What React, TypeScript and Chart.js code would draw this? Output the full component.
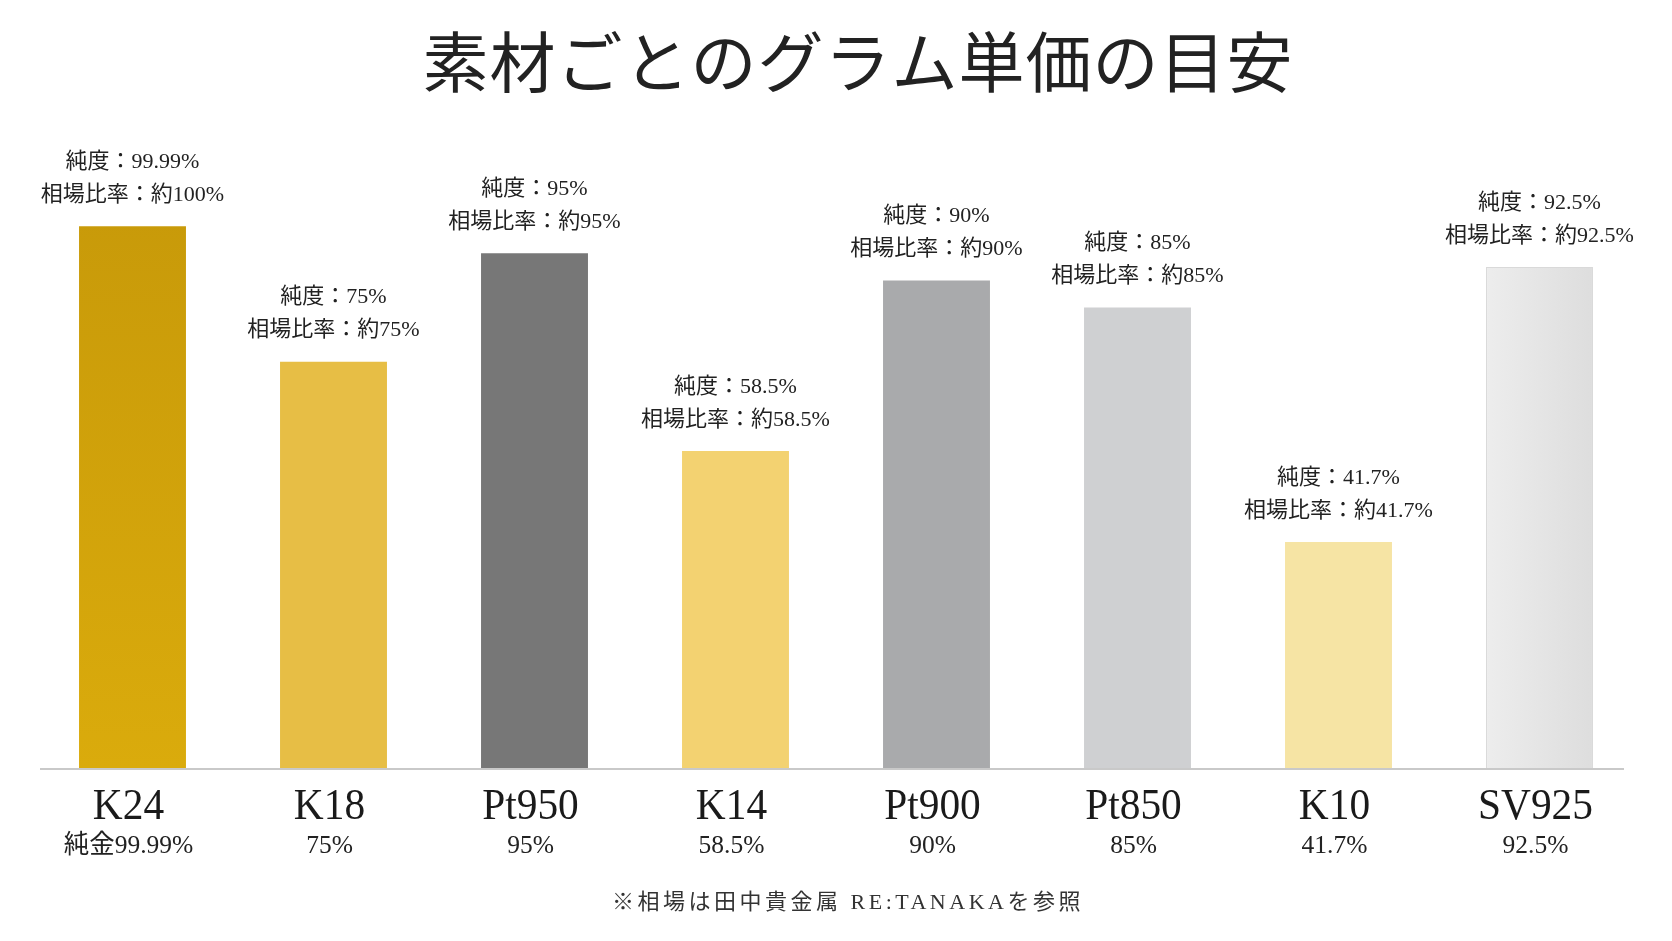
import React, { useEffect, useRef } from "react";
import { Chart, registerables } from "chart.js";

Chart.register(...registerables);

// Materials and their purity (%) — bar heights come from these values
const materials = ["K24", "K18", "Pt950", "K14", "Pt900", "Pt850", "K10", "SV925"];
const purity = [99.99, 75, 95, 58.5, 90, 85, 41.7, 92.5];
const purityText = ["99.99%", "75%", "95%", "58.5%", "90%", "85%", "41.7%", "92.5%"];
const ratioText = ["約100%", "約75%", "約95%", "約58.5%", "約90%", "約85%", "約41.7%", "約92.5%"];
const subLabels = ["純金99.99%", "75%", "95%", "58.5%", "90%", "85%", "41.7%", "92.5%"];

const TITLE = "素材ごとのグラム単価の目安";
const FOOTNOTE = "※相場は田中貴金属 RE:TANAKAを参照";

const barColors = [
  "#D3A40C",
  "#E7BE45",
  "#777777",
  "#F3D271",
  "#A9AAAC",
  "#CFD0D2",
  "#F6E4A4",
  "#E6E6E6",
];

const SERIF = '"Liberation Serif", "Noto Sans CJK JP", serif';
const TEXT_COLOR = "#222222";

function drawText(
  ctx: CanvasRenderingContext2D,
  text: string,
  x: number,
  y: number,
  font: string,
  color: string,
  sx = 1,
  spacing = "0px"
) {
  ctx.save();
  ctx.font = font;
  ctx.fillStyle = color;
  ctx.textAlign = "center";
  ctx.textBaseline = "middle";
  (ctx as any).letterSpacing = spacing;
  ctx.translate(x, y);
  ctx.scale(sx, 1);
  ctx.fillText(text, 0, 0);
  ctx.restore();
}

const labelsPlugin = {
  id: "materialLabels",
  beforeDatasetsDraw(chart: any) {
    const { ctx, chartArea } = chart;
    // baseline under the bars
    ctx.save();
    ctx.strokeStyle = "#C9C9C9";
    ctx.lineWidth = 2;
    ctx.beginPath();
    ctx.moveTo(chartArea.left + 8, chartArea.bottom + 1);
    ctx.lineTo(chartArea.right - 16, chartArea.bottom + 1);
    ctx.stroke();
    ctx.restore();
  },
  afterDatasetsDraw(chart: any) {
    const { ctx, chartArea } = chart;
    const meta = chart.getDatasetMeta(0);

    drawText(ctx, TITLE, 850, 62, `400 66px ${SERIF}`, TEXT_COLOR, 1, "1px");

    meta.data.forEach((bar: any, i: number) => {
      const x = bar.x;
      const top = bar.y;
      drawText(ctx, `純度：${purityText[i]}`, x, top - 64, `22px ${SERIF}`, TEXT_COLOR, 1);
      drawText(ctx, `相場比率：${ratioText[i]}`, x, top - 31, `22px ${SERIF}`, TEXT_COLOR, 1);
      drawText(ctx, materials[i], x - 4, chartArea.bottom + 39, `45px ${SERIF}`, "#1A1A1A", 0.92);
      drawText(ctx, subLabels[i], x - 4, chartArea.bottom + 78, `26px ${SERIF}`, TEXT_COLOR, 0.98);
    });

    drawText(ctx, FOOTNOTE, 840, 895, `22px ${SERIF}`, "#333333", 1, "3.5px");
  },
};

export default function App() {
  const canvasRef = useRef<HTMLCanvasElement | null>(null);

  useEffect(() => {
    if (!canvasRef.current) return;
    const chart = new Chart(canvasRef.current, {
      type: "bar",
      data: {
        labels: materials,
        datasets: [
          {
            data: purity,
            backgroundColor: (c: any) => {
              const ch = c.chart;
              const area = ch.chartArea;
              const i = c.dataIndex;
              if (!area) return barColors[i];
              const g = ch.ctx;
              if (i === 0) {
                const grad = g.createLinearGradient(0, area.top, 0, area.bottom);
                grad.addColorStop(0, "#C69809");
                grad.addColorStop(1, "#DAAB0C");
                return grad;
              }
              if (i === 7) {
                const xs = ch.scales.x;
                const cx = xs.getPixelForValue(i);
                const grad = g.createLinearGradient(cx - 55, 0, cx + 55, 0);
                grad.addColorStop(0, "#EDEDED");
                grad.addColorStop(1, "#DDDDDD");
                return grad;
              }
              return barColors[i];
            },
            borderColor: (c: any) => (c.dataIndex === 7 ? "#D9D9D9" : "rgba(0,0,0,0)"),
            borderWidth: (c: any) => (c.dataIndex === 7 ? 1 : 0),
            borderSkipped: "bottom",
            barPercentage: 0.532,
            categoryPercentage: 1,
          },
        ],
      },
      options: {
        responsive: false,
        animation: false,
        layout: { padding: { top: 137, bottom: 165, left: 24, right: 24 } },
        plugins: {
          legend: { display: false },
          title: { display: false },
          tooltip: { enabled: false },
        },
        scales: {
          x: { display: false },
          y: { display: false, min: 0, max: 115 },
        },
      },
      plugins: [labelsPlugin],
    });
    return () => chart.destroy();
  }, []);

  return (
    <div style={{ width: 1656, height: 925, background: "#FFFFFF" }}>
      <canvas ref={canvasRef} width={1656} height={925} style={{ display: "block" }} />
    </div>
  );
}
